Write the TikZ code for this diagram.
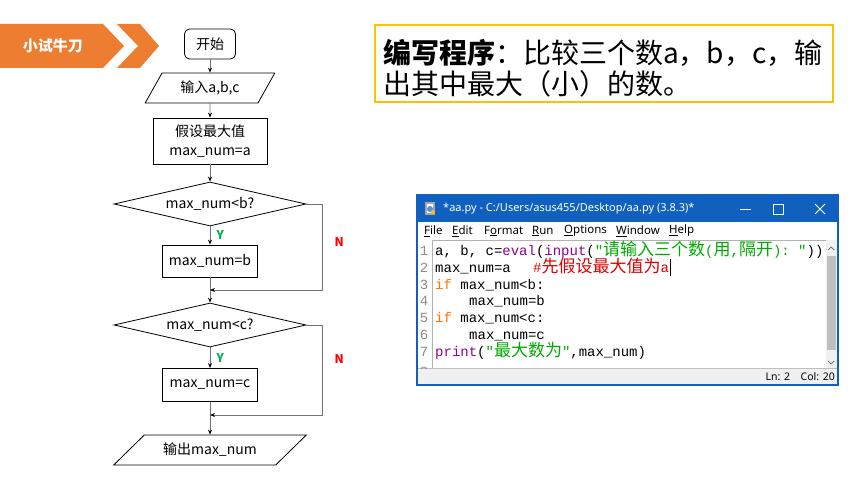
\documentclass[tikz,border=0pt]{standalone}
\usepackage{fontspec}
\setmainfont{Noto Sans CJK SC}
\setmonofont{Liberation Mono}
\newfontfamily\cjkfont{Noto Sans CJK SC}
\newfontfamily\uifont{Noto Sans}
\usetikzlibrary{shapes.geometric, arrows.meta}

\definecolor{pptorange}{RGB}{237,125,49}
\definecolor{boxgold}{RGB}{255,192,0}
\definecolor{ygreen}{RGB}{0,176,80}
\definecolor{nred}{RGB}{255,0,0}
\definecolor{winblue}{RGB}{16,96,192}
\definecolor{kwor}{RGB}{255,119,0}
\definecolor{bipur}{RGB}{144,0,144}
\definecolor{strgr}{RGB}{0,170,0}
\definecolor{cmtred}{RGB}{221,0,0}

\tikzset{
  fc/.style={draw, line width=0.8pt, inner sep=2pt, font=\fontsize{14}{19}\selectfont},
  startbox/.style={fc, rounded corners=5pt, minimum width=51pt, minimum height=30pt},
  iobox/.style={fc, trapezium, trapezium stretches=true, minimum height=30pt},
  procbox/.style={fc, rectangle, align=center},
  decbox/.style={fc, diamond, shape aspect=4.36, minimum width=192pt, minimum height=44pt, inner sep=0pt},
  flow/.style={draw=black!55, line width=0.8pt, -{Stealth[length=5pt,width=4pt,black]}},
  ylab/.style={text=ygreen, font=\bfseries\fontsize{12}{12}\selectfont, right=3pt},
  nlab/.style={text=nred, font=\bfseries\fontsize{12}{12}\selectfont, right=9pt},
  codeln/.style={anchor=base west, inner sep=0pt, font=\ttfamily\fontsize{14}{17}\selectfont},
  lnum/.style={anchor=base, inner sep=0pt, text=black!45, font=\ttfamily\fontsize{14}{17}\selectfont},
  menu/.style={anchor=west, inner sep=0pt, font=\uifont\fontsize{11.5}{12}\selectfont},
}
\newcommand{\zh}[1]{{\cjkfont\fontsize{17}{17}\selectfont #1}}

\begin{document}
\begin{tikzpicture}[x=1pt, y=-1pt]
  \useasboundingbox (0,0) rectangle (860,484);
  \fill[white] (0,0) rectangle (860,484);

  % Banner
  \fill[pptorange] (0,24) -- (103,24) -- (124,46) -- (103,68) -- (0,68) -- cycle;
  \fill[pptorange] (117,24) -- (140,24) -- (159,46) -- (140,68) -- (117,68) -- (138,46) -- cycle;
  \node[text=white, font=\bfseries\fontsize{15}{15}\selectfont] (banner) at (53,46) {小试牛刀};

  % Diagramma di flusso
  \node[startbox] (start) at (210,44) {开始};
  \node[iobox, minimum width=130pt, trapezium left angle=59, trapezium right angle=121] (inp) at (210,88) {输入a,b,c};
  \node[procbox, minimum width=114pt, minimum height=46pt] (init) at (210,141) {假设最大值\\max\_num=a};
  \node[decbox] (cmpb) at (210,204) {max\_num<b?};
  \node[procbox, minimum width=95pt, minimum height=32pt] (setb) at (210,261) {max\_num=b};
  \node[decbox] (cmpc) at (210,325) {max\_num<c?};
  \node[procbox, minimum width=95pt, minimum height=33pt] (setc) at (210,385) {max\_num=c};
  \node[iobox, minimum width=193pt, trapezium left angle=38, trapezium right angle=142] (outp) at (210,450) {输出max\_num};

  \coordinate (j1) at (210,290);
  \coordinate (n1) at (322,290);
  \coordinate (j2) at (210,415);
  \coordinate (n2) at (322,415);

  \draw[flow] (start) -- (inp);
  \draw[flow] (inp) -- (init);
  \draw[flow] (init) -- (cmpb);
  \draw[flow] (cmpb) -- node[ylab] {Y} (setb);
  \draw[flow] (setb) -- (cmpc);
  \draw[flow] (cmpb.east) -| node[nlab, pos=0.72] {N} (n1) -- (j1);
  \draw[flow] (cmpc) -- node[ylab] {Y} (setc);
  \draw[flow] (setc) -- (outp);
  \draw[flow] (cmpc.east) -| node[nlab, pos=0.69] {N} (n2) -- (j2);

  % Consegna
  \draw[boxgold, line width=2pt] (375,25) rectangle (833,102);
  \node[anchor=west, inner sep=0pt, font=\fontsize{28}{28}\selectfont] (task1) at (383,53)
    {\textbf{编写程序}：比较三个数a，b，c，输};
  \node[anchor=west, inner sep=0pt, font=\fontsize{28}{28}\selectfont] (task2) at (383,84)
    {出其中最大（小）的数。};

  % Finestra IDLE
  \fill[white] (417,195) rectangle (838,385);
  \fill[winblue] (417,195) rectangle (838,222);
  \fill[black!35] (425,202) rectangle (435,215);
  \fill[white] (427,204) rectangle (433,213);
  \fill[winblue!70] (430,209) circle (3pt);
  \fill[boxgold] (433,212) circle (2pt);
  \node[anchor=west, inner sep=0pt, text=white, font=\uifont\fontsize{11}{12}\selectfont] (wtitle) at (443,209)
    {*aa.py - C:/Users/asus455/Desktop/aa.py (3.8.3)*};
  \draw[white, line width=0.8pt] (740,209) -- (751,209);
  \draw[white, line width=0.8pt] (773,204) rectangle (783,214);
  \draw[white, line width=0.8pt] (815,204) -- (825,214) (815,214) -- (825,204);

  \node[menu] (mfile) at (424,231) {\underline{F}ile};
  \node[menu] (medit) at (452,231) {\underline{E}dit};
  \node[menu] (mformat) at (484,231) {F\underline{o}rmat};
  \node[menu] (mrun) at (532,231) {\underline{R}un};
  \node[menu] (moptions) at (564,231) {\underline{O}ptions};
  \node[menu] (mwindow) at (616,231) {\underline{W}indow};
  \node[menu] (mhelp) at (669,231) {\underline{H}elp};

  \draw[black!30] (432,240) rectangle (826,368);
  \fill[black!6] (826,240) rectangle (838,368);
  \fill[black!25] (827,256) rectangle (836,350);
  \draw[black!60, line width=0.7pt] (828,250) -- (831,247) -- (834,250);
  \draw[black!60, line width=0.7pt] (828,361) -- (831,364) -- (834,361);
  \fill[black!6] (417,368) rectangle (838,385);
  \draw[black!25] (417,368) -- (838,368);
  \node[anchor=east, inner sep=0pt, font=\uifont\fontsize{10.5}{11}\selectfont] (status) at (835,377) {Ln: 2\quad Col: 20};

  \foreach \n/\y in {1/255, 2/272, 3/289, 4/305, 5/322, 6/339, 7/356}
    \node[lnum] (ln\n) at (424,\y) {\n};
  \begin{scope}
    \clip (417,240) rectangle (432,368);
    \node[lnum] (ln8) at (424,376) {8};
  \end{scope}

  \node[codeln] (c1) at (435,255) {a, b, c=\textcolor{bipur}{eval}(\textcolor{bipur}{input}(\textcolor{strgr}{"\zh{请输入三个数}(\zh{用},\zh{隔开}): "}))};
  \node[codeln] (c2) at (435,272) {max\_num=a};
  \node[codeln, text=cmtred] (c2r) at (533,272) {\#\zh{先假设最大值为}a};
  \draw[black, line width=1pt] (670,259) -- (670,276);
  \node[codeln] (c3) at (435,289) {\textcolor{kwor}{if} max\_num<b:};
  \node[codeln] (c4) at (469,305) {max\_num=b};
  \node[codeln] (c5) at (435,322) {\textcolor{kwor}{if} max\_num<c:};
  \node[codeln] (c6) at (469,339) {max\_num=c};
  \node[codeln] (c7) at (435,356) {\textcolor{bipur}{print}(\textcolor{strgr}{"\zh{最大数为}"},max\_num)};

  \draw[winblue, line width=1.2pt] (417,195) rectangle (838,385);
\end{tikzpicture}
\end{document}
